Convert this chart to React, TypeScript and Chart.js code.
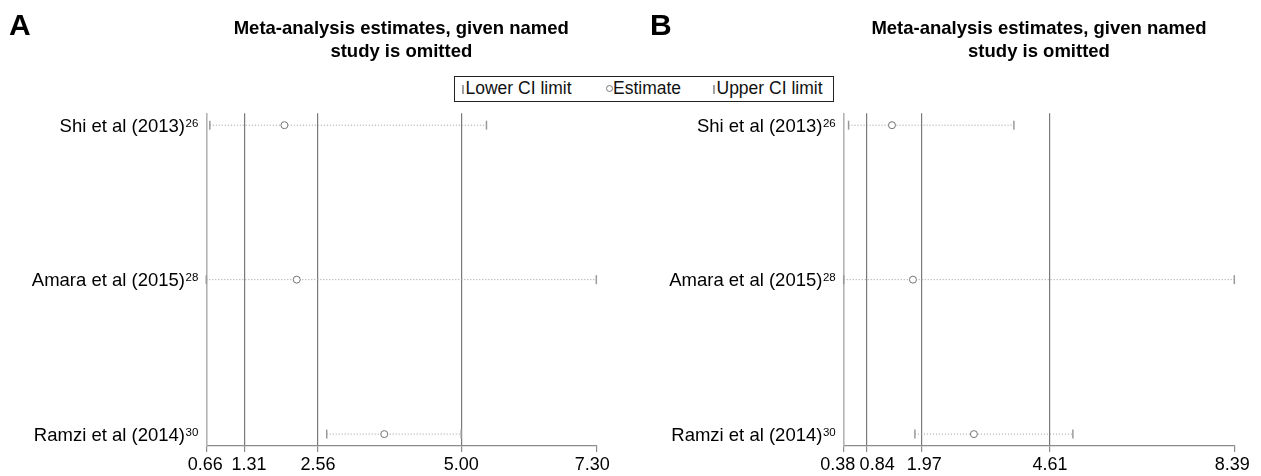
import React, { useEffect, useRef } from "react";
import { Chart, registerables } from "chart.js";

Chart.register(...registerables);

// ---------------- data ----------------
const studies = ["Shi et al (2013)", "Amara et al (2015)", "Ramzi et al (2014)"];
const refNums = ["26", "28", "30"];

const aTicks = [0.66, 1.31, 2.56, 5.0, 7.3];
const aLower = [0.72, 0.66, 2.71];
const aEstimate = [1.99, 2.2, 3.69];
const aUpper = [5.43, 7.3, 5.0];

const bTicks = [0.38, 0.84, 1.97, 4.61, 8.39];
const bLower = [0.48, 0.38, 1.84];
const bEstimate = [1.37, 1.8, 3.05];
const bUpper = [3.87, 8.39, 5.08];

const titleLines = ["Meta-analysis estimates, given named", "study is omitted"];
const legendLabels = ["Lower CI limit", "Estimate", "Upper CI limit"];

// ---------------- style ----------------
const FONT = "'Liberation Sans', Arial, Helvetica, sans-serif";
const DOT = "#9a9a9a";
const REF = "#7a7a7a";

type PanelProps = {
  letter: string;
  ticks: number[];
  lower: number[];
  est: number[];
  upper: number[];
  left: number;
  width: number;
  yW: number;
  padRight: number;
  letterX: number;
  nudges: number[];
};

function Panel(p: PanelProps) {
  const ref = useRef<HTMLCanvasElement | null>(null);
  useEffect(() => {
    if (!ref.current) return;
    const { ticks, lower, est, upper, yW, padRight, letter, letterX, nudges } = p;
    const textPlugin = {
      id: "panelText",
      afterDraw(chart: any) {
        const { ctx, chartArea, scales } = chart;
        ctx.save();
        ctx.fillStyle = "#000";
        ctx.textBaseline = "alphabetic";
        ctx.textAlign = "left";
        ctx.font = `bold 30px ${FONT}`;
        ctx.fillText(letter, letterX, 34.5);
        ctx.font = `bold 18.5px ${FONT}`;
        ctx.textAlign = "center";
        const cx = (chartArea.left + chartArea.right) / 2;
        ctx.fillText(titleLines[0], cx, 34.3);
        ctx.fillText(titleLines[1], cx, 56.5);
        studies.forEach((s, i) => {
          const y = scales.y.getPixelForValue(i);
          const xr = chartArea.left - 8;
          ctx.textAlign = "right";
          ctx.font = `11.5px ${FONT}`;
          const supW = ctx.measureText(refNums[i]).width;
          ctx.fillText(refNums[i], xr, y + 1.5);
          ctx.font = `18.5px ${FONT}`;
          ctx.fillText(s, xr - supW - 0.5, y + 6.5);
        });
        ctx.font = `18px ${FONT}`;
        ctx.textAlign = "center";
        ctx.textBaseline = "middle";
        ticks.forEach((v, i) => {
          ctx.fillText(v.toFixed(2), scales.x.getPixelForValue(v) + nudges[i], 465);
        });
        ctx.restore();
      },
    };

    const ciSets = studies.map((_, i) => ({
      label: "ci" + i,
      data: [
        { x: lower[i], y: i },
        { x: upper[i], y: i },
      ],
      showLine: true,
      pointRadius: 0,
      borderColor: DOT,
      borderWidth: 1,
      borderDash: [1, 2],
      clip: false,
    }));

    const chart = new Chart(ref.current, {
      type: "scatter",
      data: {
        datasets: [
          {
            label: "Estimate",
            data: est.map((x, i) => ({ x, y: i })),
            pointStyle: "circle",
            pointRadius: 3.5,
            borderWidth: 1,
            borderColor: "#737373",
            backgroundColor: "#fff",
            clip: false,
          },
          {
            label: "Lower CI limit",
            data: lower.map((x, i) => ({ x, y: i })),
            pointStyle: "line",
            rotation: 90,
            pointRadius: 4.5,
            borderWidth: 1.5,
            borderColor: "#9a9a9a",
            clip: false,
          },
          {
            label: "Upper CI limit",
            data: upper.map((x, i) => ({ x, y: i })),
            pointStyle: "line",
            rotation: 90,
            pointRadius: 4.5,
            borderWidth: 1.5,
            borderColor: "#9a9a9a",
            clip: false,
          },
          ...ciSets,
        ] as any,
      },
      options: {
        animation: false,
        responsive: false,
        maintainAspectRatio: false,
        events: [],
        layout: { padding: { left: 0, right: padRight, top: 113.3, bottom: 0 } },
        plugins: {
          legend: { display: false },
          tooltip: { enabled: false },
          title: { display: false },
        },
        scales: {
          x: {
            type: "linear",
            min: ticks[0],
            max: ticks[ticks.length - 1],
            afterBuildTicks: (s: any) => {
              s.ticks = ticks.map((v) => ({ value: v }));
            },
            afterFit: (s: any) => {
              s.height = 30;
            },
            ticks: { display: false, autoSkip: false, maxRotation: 0, minRotation: 0 },
            grid: {
              color: (c: any) =>
                c.index === 0 || c.index === ticks.length - 1 ? "rgba(0,0,0,0)" : REF,
              lineWidth: 1.2,
              tickColor: "#8c8c8c",
              tickLength: 6,
              drawOnChartArea: true,
              drawTicks: true,
            },
            border: { display: true, color: "#8c8c8c", width: 1.2 },
          },
          y: {
            type: "linear",
            reverse: true,
            min: -0.077,
            max: 2.077,
            afterFit: (s: any) => {
              s.width = yW;
            },
            ticks: { display: false },
            grid: { display: false, drawTicks: false },
            border: { display: true, color: "#b4b4b4", width: 1.6 },
          },
        },
      } as any,
      plugins: [textPlugin],
    });
    return () => chart.destroy();
  }, []);
  return (
    <canvas
      ref={ref}
      width={p.width}
      height={476}
      style={{ position: "absolute", left: p.left, top: 0, width: p.width, height: 476, display: "block" }}
    />
  );
}

function Legend() {
  const text: React.CSSProperties = {
    position: "absolute",
    top: 0,
    fontFamily: FONT,
    fontSize: 17.5,
    lineHeight: "23px",
    color: "#111",
    whiteSpace: "nowrap",
  };
  const bar = (x: number): React.CSSProperties => ({
    position: "absolute",
    left: x,
    top: 7.5,
    width: 2,
    height: 9,
    background: "#a0a0a0",
  });
  return (
    <div
      style={{
        position: "absolute",
        left: 454,
        top: 76,
        width: 380,
        height: 26,
        border: "1.5px solid #222",
        boxSizing: "border-box",
        background: "#fff",
      }}
    >
      <div style={bar(6.5)} />
      <div style={{ ...text, left: 10.5 }}>{legendLabels[0]}</div>
      <div
        style={{
          position: "absolute",
          left: 151,
          top: 8,
          width: 7,
          height: 7,
          borderRadius: "50%",
          border: "1px solid #777",
          boxSizing: "border-box",
        }}
      />
      <div style={{ ...text, left: 158 }}>{legendLabels[1]}</div>
      <div style={bar(257.5)} />
      <div style={{ ...text, left: 261.5 }}>{legendLabels[2]}</div>
    </div>
  );
}

export default function App() {
  return (
    <div style={{ position: "absolute", left: 0, top: 0, width: 1261, height: 476, background: "#fff", overflow: "hidden" }}>
      <Panel
        letter="A"
        ticks={aTicks}
        lower={aLower}
        est={aEstimate}
        upper={aUpper}
        left={0}
        width={630}
        yW={206.3}
        padRight={33.7}
        letterX={9}
        nudges={[-1, 4.5, 0, 0, -4]}
      />
      <Panel
        letter="B"
        ticks={bTicks}
        lower={bLower}
        est={bEstimate}
        upper={bUpper}
        left={630}
        width={631}
        yW={213.7}
        padRight={26.7}
        letterX={650 - 630}
        nudges={[-6, 11, 3, 0, -2]}
      />
      <Legend />
    </div>
  );
}
